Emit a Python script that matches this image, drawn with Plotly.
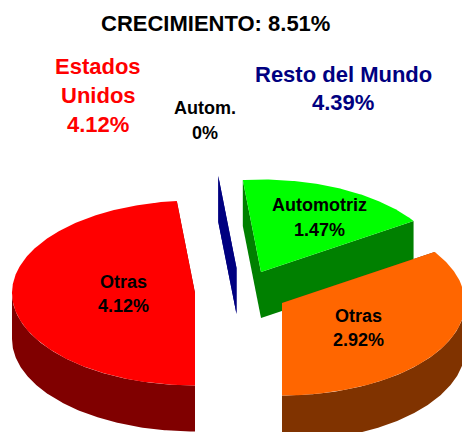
import numpy as np
import plotly.graph_objects as go

# Data
slice_names = ["Otras", "Autom.", "Automotriz", "Otras"]
slice_values = [4.12, 0.0, 1.47, 2.92]
total_growth = 8.51
region_us = 4.12
region_row = 4.39

# Styles
top_colors = ["#ff0000", "#000080", "#00ff00", "#ff6600"]
side_colors = ["#800000", "#000080", "#008000", "#803300"]
explode_dx = [0, 41.5, 66, 87]
explode_dy = [0, -25, -21, 10]

CX, CY, RX, RY, DEPTH = 195, 293, 183, 92.5, 46
W, H = 462, 432
FONT = "Liberation Sans"


def arc(cx, cy, a0, a1):
    t = np.radians(np.linspace(a0, a1, max(int(abs(a1 - a0)) * 2, 2)))
    return cx + RX * np.sin(t), cy - RY * np.cos(t)


def poly(fig, x, y, color):
    fig.add_trace(go.Scatter(x=np.append(x, x[0]), y=np.append(y, y[0]), mode="lines",
                             fill="toself", fillcolor=color, line=dict(width=0, color=color),
                             hoverinfo="skip", showlegend=False))


fig = go.Figure()
edges = 180 + np.cumsum([0] + slice_values) / sum(slice_values) * 360

for i in [1, 2, 3, 0]:
    a0, a1 = edges[i], edges[i + 1]
    cx, cy = CX + explode_dx[i], CY + explode_dy[i]
    # radial walls
    for a in (a0, a1):
        ex, ey = arc(cx, cy, a, a)
        ex, ey = ex[0], ey[0]
        poly(fig, np.array([cx, ex, ex, cx]), np.array([cy, ey, ey + DEPTH, cy + DEPTH]), side_colors[i])
    # outer wall (front half of the rim only)
    for lo, hi in ((90, 270), (450, 630)):
        s, e = max(a0, lo), min(a1, hi)
        if e > s:
            ax, ay = arc(cx, cy, s, e)
            poly(fig, np.concatenate([ax, ax[::-1]]), np.concatenate([ay, ay[::-1] + DEPTH]), side_colors[i])
    # top face
    if a1 > a0:
        ax, ay = arc(cx, cy, a0, a1)
        poly(fig, np.concatenate([[cx], ax]), np.concatenate([[cy], ay]), top_colors[i])


def label(text, x, y, size, color="#000000"):
    fig.add_annotation(x=x, y=y, text=f"<b>{text}</b>", showarrow=False, xanchor="center",
                       yanchor="middle", font=dict(family=FONT, size=size, color=color))


label(f"CRECIMIENTO: {total_growth}%", 215, 23, 22)
label("Estados", 98, 66, 22, "#ff0000")
label("Unidos", 98, 95, 22, "#ff0000")
label(f"{region_us}%", 98, 124, 22, "#ff0000")
label("Resto del Mundo", 343, 74, 22, "#000080")
label(f"{region_row}%", 343, 102, 22, "#000080")
label(slice_names[1], 205, 108, 18)
label(f"{slice_values[1]:.0f}%", 205, 133, 18)
label(slice_names[2], 319, 205, 18)
label(f"{slice_values[2]}%", 319, 230, 18)
label(slice_names[0], 123, 282, 18)
label(f"{slice_values[0]}%", 123, 306, 18)
label(slice_names[3], 358, 316, 18)
label(f"{slice_values[3]}%", 358, 340, 18)

fig.update_layout(width=W, height=H, margin=dict(l=0, r=0, t=0, b=0), paper_bgcolor="white",
                  plot_bgcolor="white", showlegend=False,
                  xaxis=dict(range=[0, W], visible=False, fixedrange=True),
                  yaxis=dict(range=[H, 0], visible=False, fixedrange=True))
fig.write_html("out.html", config={"displayModeBar": False},
               post_script="document.body.style.margin='0';document.body.style.overflow='hidden';")
